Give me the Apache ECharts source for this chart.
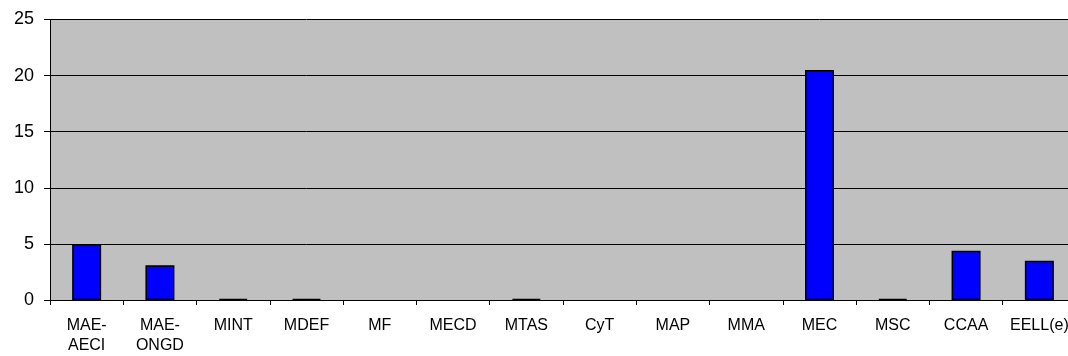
<!DOCTYPE html>
<html><head><meta charset="utf-8">
<script src="https://cdn.jsdelivr.net/npm/echarts@6/dist/echarts.min.js"></script>
<style>html,body{margin:0;padding:0;background:#fff;overflow:hidden;width:1068px;height:356px}#c{width:1076px;height:356px}</style>
</head><body><div id="c"></div>
<script>
const categories = ['MAE-\nAECI','MAE-\nONGD','MINT','MDEF','MF','MECD','MTAS','CyT','MAP','MMA','MEC','MSC','CCAA','EELL(e)'];
const values = [5.0, 3.1, 0.1, 0.1, 0, 0, 0.1, 0, 0, 0, 20.5, 0.1, 4.4, 3.5];
const yTicks = {min: 0, max: 25, interval: 5};

const chart = echarts.init(document.getElementById('c'));
chart.setOption({
  animation: false,
  grid: {left: 50, right: 0, top: 19.5, bottom: 53, show: true, backgroundColor: '#C0C0C0', borderWidth: 0},
  xAxis: {
    type: 'category', data: categories,
    axisLine: {lineStyle: {color: '#000', width: 1}},
    axisTick: {show: true, length: 5, lineStyle: {color: '#000'}},
    axisLabel: {color: '#000', fontSize: 16, fontFamily: 'Liberation Sans, Arial, sans-serif', margin: 16, lineHeight: 20, interval: 0}
  },
  yAxis: {
    type: 'value', min: yTicks.min, max: yTicks.max, interval: yTicks.interval,
    axisLine: {show: true, lineStyle: {color: '#000'}},
    axisTick: {show: true, length: 6, lineStyle: {color: '#000'}},
    splitLine: {lineStyle: {color: '#000', width: 1}},
    axisLabel: {color: '#000', fontSize: 18, fontFamily: 'Liberation Sans, Arial, sans-serif', margin: 16}
  },
  series: [{
    type: 'bar',
    data: values.map(v => v === 0 ? {value: v, itemStyle: {borderWidth: 0}} : v),
    barWidth: 29,
    itemStyle: {color: '#0000FF', borderColor: '#000', borderWidth: 1.5}
  }]
});
</script></body></html>
